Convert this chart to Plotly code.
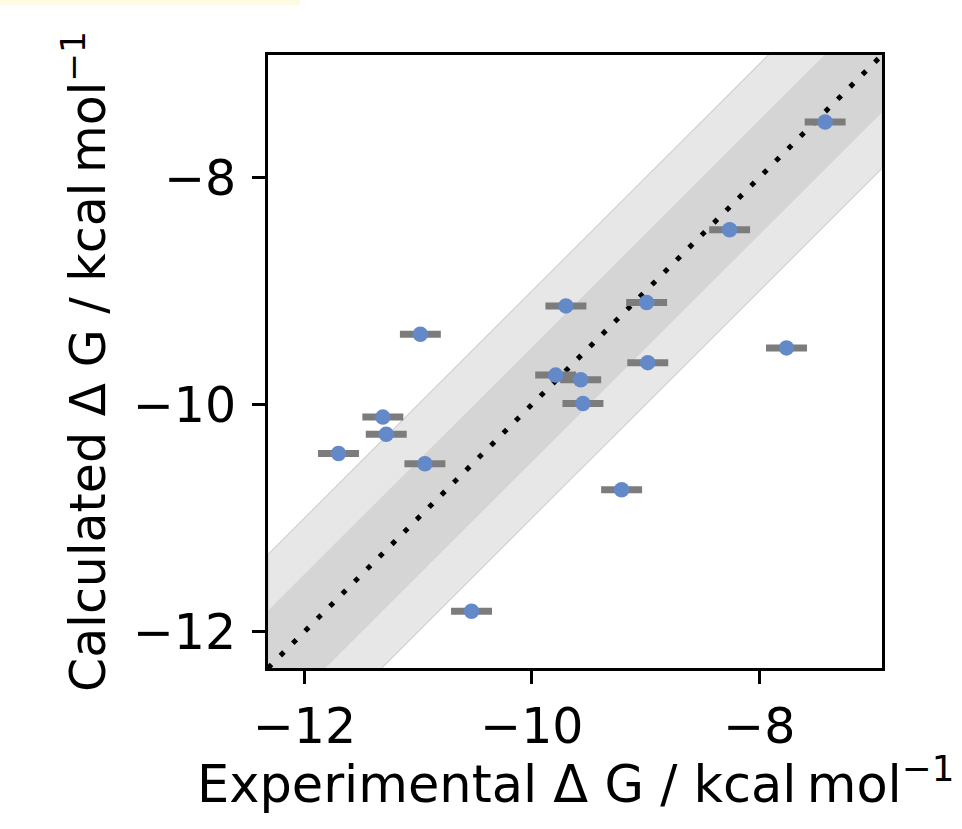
import plotly.graph_objects as go

# Experimental vs calculated binding free energies (kcal/mol)
exp_dg = [-7.42, -8.26, -9.70, -8.99, -7.76, -10.98, -8.98, -9.79,
          -9.57, -9.55, -11.31, -11.28, -11.70, -10.94, -9.21, -10.53]
calc_dg = [-7.51, -8.46, -9.13, -9.10, -9.50, -9.38, -9.63, -9.74,
           -9.78, -9.99, -10.11, -10.26, -10.43, -10.52, -10.75, -11.82]
exp_err = [0.18] * len(exp_dg)

axis_range = [-12.32, -6.92]
tick_vals = [-12, -10, -8]
tick_text = ["\u221212", "\u221210", "\u22128"]
band_outer = 1.0
band_inner = 0.5

x_title = "Experimental \u0394 G / kcal\u2009mol<sup>\u22121</sup>"
y_title = "Calculated \u0394 G / kcal\u2009mol<sup>\u22121</sup>"

FONT = "DejaVu Sans"
x0, x1 = axis_range


def band(offset):
    return ([x0, x1, x1, x0, x0],
            [x0 + offset, x1 + offset, x1 - offset, x0 - offset, x0 + offset])


fig = go.Figure()

bx, by = band(band_outer)
fig.add_trace(go.Scatter(x=bx, y=by, fill="toself", fillcolor="#e7e7e7",
                         line=dict(color="#d2d2d2", width=1.2), mode="lines",
                         hoverinfo="skip", showlegend=False))
bx, by = band(band_inner)
fig.add_trace(go.Scatter(x=bx, y=by, fill="toself", fillcolor="#d5d5d5",
                         line=dict(color="#d0d0d0", width=0.8), mode="lines",
                         hoverinfo="skip", showlegend=False))

# identity line
fig.add_trace(go.Scatter(x=axis_range, y=axis_range, mode="lines",
                         line=dict(color="black", width=5, dash="5px,12.5px"),
                         hoverinfo="skip", showlegend=False))

fig.add_trace(go.Scatter(
    x=exp_dg, y=calc_dg, mode="markers",
    marker=dict(size=15.5, color="#6389c9"),
    error_x=dict(type="data", array=exp_err, color="#7c7c7c",
                 thickness=7, width=0),
    showlegend=False))

axis_common = dict(
    range=axis_range, tickvals=tick_vals, ticktext=tick_text,
    showgrid=False, zeroline=False, showline=True, mirror=True,
    linecolor="black", linewidth=3, ticks="outside", ticklen=13,
    tickwidth=2.5, tickcolor="black",
    tickfont=dict(family=FONT, size=49, color="black"),
)

fig.update_xaxes(**axis_common)
fig.update_yaxes(**axis_common, ticklabelstandoff=6,
                 title=dict(text=y_title,
                            font=dict(family=FONT, size=49, color="black"),
                            standoff=12))

# x-axis title placed as a centred annotation below the tick labels
fig.add_annotation(text=x_title, xref="paper", yref="paper",
                   x=0.5, y=-0.184, xanchor="center", yanchor="middle",
                   showarrow=False,
                   font=dict(family=FONT, size=51, color="black"))

# faint cream strip along the top edge
fig.add_shape(type="rect", xref="paper", yref="paper",
              x0=-0.437, x1=0.052, y0=1.0816, y1=1.0897,
              fillcolor="#fffbe3", line=dict(width=0), layer="below")

fig.update_layout(
    width=962, height=829,
    margin=dict(l=268, r=80, t=55, b=161, autoexpand=False),
    paper_bgcolor="white", plot_bgcolor="white",
    font=dict(family=FONT, color="black"),
)

fig.write_html("out.html")
